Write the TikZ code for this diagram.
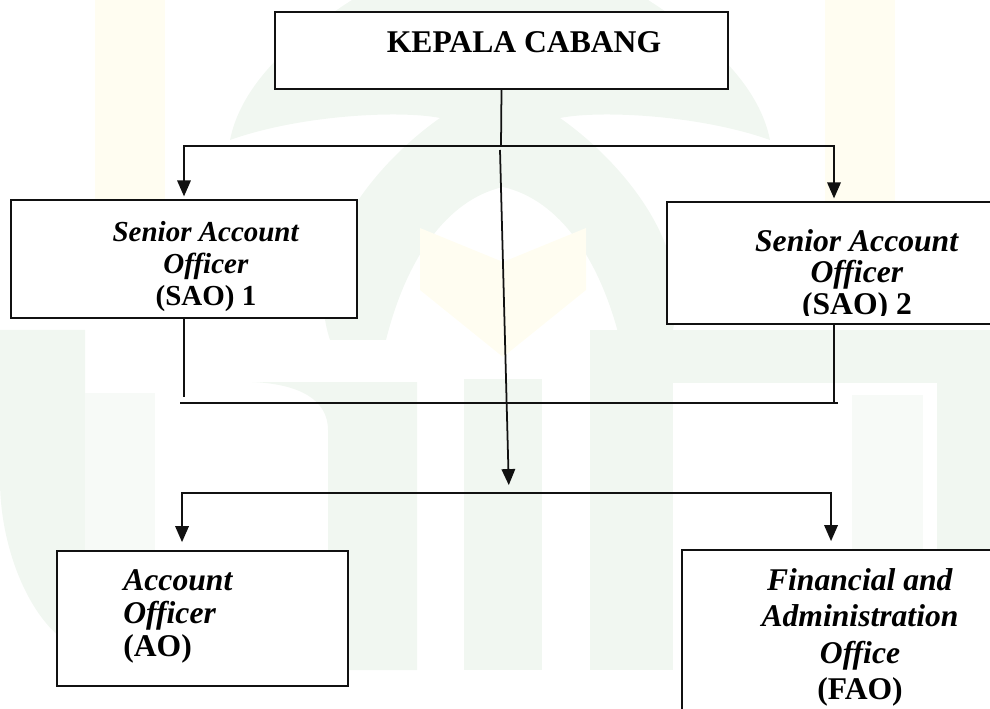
\documentclass[tikz,border=0pt]{standalone}
\usepackage{fontspec}
\setmainfont{Liberation Serif}
\usepackage{tikz}
\usetikzlibrary{arrows.meta,positioning,calc,fit}
\definecolor{chartblack}{HTML}{111111}
\definecolor{markgreen}{HTML}{F1F7F1}
\definecolor{markyellow}{HTML}{FFFDF1}

\begin{document}
\begin{tikzpicture}[
  x=0.02cm, y=-0.02cm,
  unitbox/.style={
    rectangle,
    draw=chartblack,
    fill=white,
    line width=1.1pt,
    inner sep=0pt
  },
  link/.style={draw=chartblack, line width=1pt},
  arrow/.style={link, -{Triangle[length=3.2mm,width=2.7mm]}},
  headtext/.style={
    font=\fontsize{18}{20}\selectfont\bfseries,
    inner sep=0pt
  },
  roletext/.style={
    font=\fontsize{18}{18}\selectfont\bfseries,
    align=center,
    inner sep=0pt
  }
]
\useasboundingbox (0,0) rectangle (990,709);

% faint logo in the back
\fill[markyellow] (95,0) rectangle (165,260);
\fill[markyellow] (825,0) rectangle (895,215);
\fill[markgreen] (230,140) .. controls (250,40) and (400,-30) .. (500,-80)
  .. controls (600,-30) and (750,40) .. (770,140)
  .. controls (700,115) and (600,110) .. (560,118) -- (440,118)
  .. controls (400,110) and (300,115) .. (230,140) -- cycle;
\fill[markgreen] (330,340) .. controls (300,250) and (380,160) .. (440,118)
  -- (560,118) .. controls (620,160) and (700,250) .. (670,340)
  -- (620,340) .. controls (600,260) and (560,200) .. (503,187)
  .. controls (446,200) and (406,260) .. (386,340) -- cycle;
\fill[markyellow] (420,228) -- (503,262) -- (586,228) -- (586,290)
  -- (503,357) -- (420,290) -- cycle;
\fill[markgreen] (0,330) -- (85,330) -- (85,650) .. controls (40,640) and (0,560) .. (0,480) -- cycle;
\fill[markgreen!60!white] (85,393) rectangle (155,680);
\fill[markgreen] (252,382) .. controls (300,384) and (328,400) .. (328,430)
  -- (328,670) -- (417,670) -- (417,382) -- cycle;
\fill[markgreen] (464,379) rectangle (542,670);
\fill[markgreen] (590,330) rectangle (990,383);
\fill[markgreen] (590,383) rectangle (673,670);
\fill[markgreen!60!white] (852,395) rectangle (923,640);
\fill[markgreen] (937,383) rectangle (990,670);

% boxes
\node[unitbox, fit={(275,12) (728,89)}] (kepala) {};
\node[unitbox, fit={(11,200) (357,318)}] (sao1) {};
\node[unitbox, fit={(667,202) (1001,324)}] (sao2) {};
\node[unitbox, fit={(57,551) (348,686)}] (ao) {};
\node[unitbox, fit={(682,550) (1010,760)}] (fao) {};

% texts
\node[headtext, anchor=base] (kepalatext) at (524,53) {KEPALA CABANG};
\node[roletext, anchor=north, font=\fontsize{16.5}{18.1}\selectfont\bfseries]
  (sao1text) at (206,221) {\textit{Senior Account}\\\textit{Officer}\\(SAO) 1};
\begin{scope}
  \clip (667,202) rectangle (1001,316);
  \node[roletext, anchor=north, font=\fontsize{18}{17.9}\selectfont\bfseries]
    (sao2text) at (857,229) {\textit{Senior Account}\\\textit{Officer}\\(SAO) 2};
\end{scope}
\node[roletext, anchor=north west, align=left, font=\fontsize{18}{19}\selectfont\bfseries]
  (aotext) at (123,569) {\textit{Account}\\\textit{Officer}\\(AO)};
\node[roletext, anchor=north, font=\fontsize{18}{20.8}\selectfont\bfseries]
  (faotext) at (860,568) {\textit{Financial and}\\\textit{Administration}\\\textit{Office}\\(FAO)};

% connectors
\coordinate (jtop) at (501,146);
\coordinate (slant) at (500,150);
\coordinate (jlow) at (509,493);
\coordinate (jmidL) at (180,403);
\coordinate (jmidR) at (838,403);

\draw[link] (kepala.south) -- (jtop);
\draw[arrow, shorten >=1.5pt] (jtop) -| (sao1.north);
\draw[arrow, shorten >=1.5pt] (jtop) -| (sao2.north);

\draw[link] (sao1.south) -- ++(0,78);
\draw[link] (jmidL) -- (jmidR);
\draw[link] (sao2.south) -- (sao2.south |- jmidR);

\draw[arrow, shorten >=4.5pt] (slant) -- (jlow);

\draw[arrow, shorten >=4.5pt] (jlow) -| ($(ao.north west)+(126,0)$);
\draw[arrow, shorten >=4.5pt] (jlow) -| ($(fao.north west)+(150,0)$);

\end{tikzpicture}
\end{document}
